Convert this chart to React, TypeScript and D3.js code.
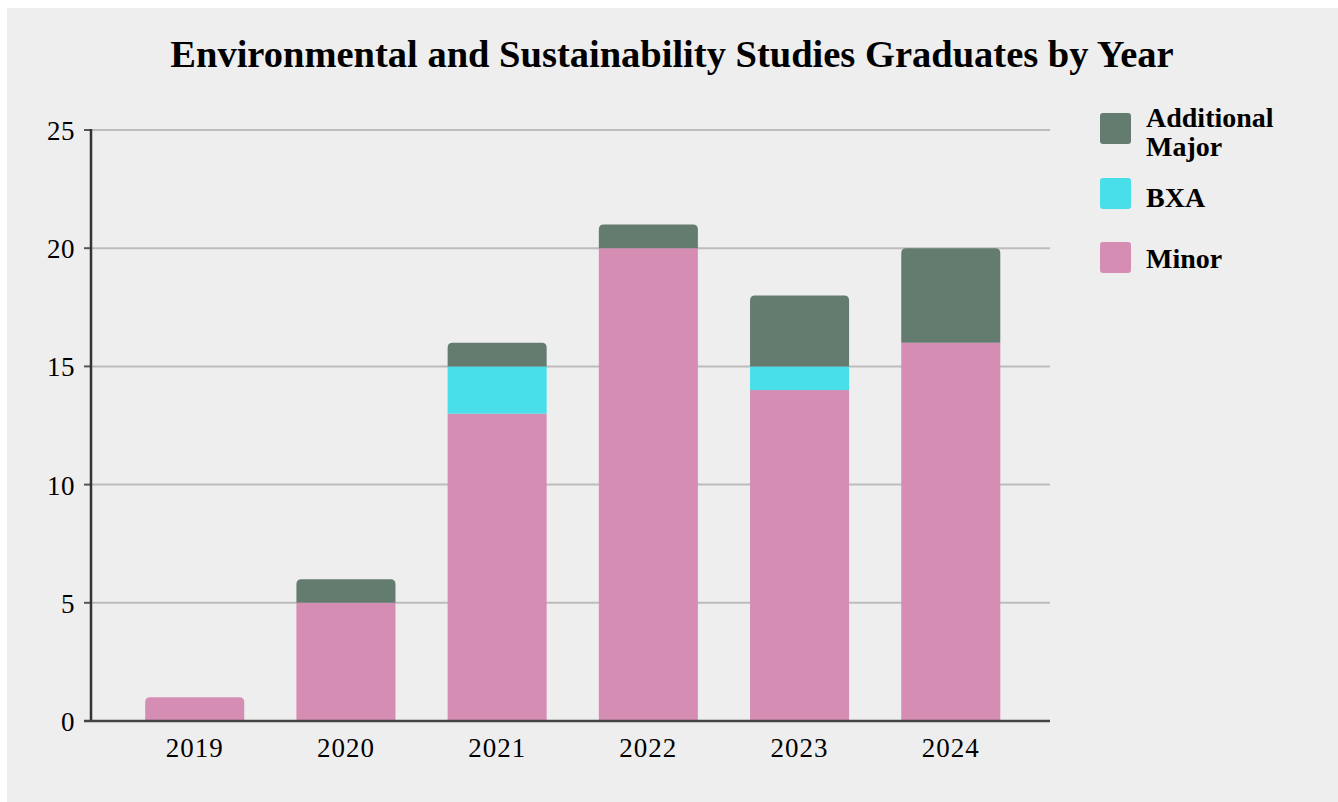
import React from "react";
import * as d3 from "d3";

const years = ["2019", "2020", "2021", "2022", "2023", "2024"];
const minor = [1, 5, 13, 20, 14, 16];
const bxa = [0, 0, 2, 0, 1, 0];
const additionalMajor = [0, 1, 1, 1, 3, 4];
const yTicks = [0, 5, 10, 15, 20, 25];
const seriesNames = ["Minor", "BXA", "Additional Major"];
const colors: Record<string, string> = {
  Minor: "#d68db3",
  BXA: "#48dfea",
  "Additional Major": "#647b70",
};

const W = 1338;
const H = 802;
const FONT = "'Liberation Serif', 'DejaVu Serif', serif";

export default function App() {
  const x = d3.scaleBand<string>().domain(years).range([119.5, 1026]).paddingInner(0.345).paddingOuter(0.17);
  const y = d3.scaleLinear().domain([0, 25]).range([721, 130]);

  const rows = years.map((yr, i) => ({
    year: yr,
    Minor: minor[i],
    BXA: bxa[i],
    "Additional Major": additionalMajor[i],
  }));
  const stack = d3.stack<any>().keys(seriesNames)(rows);

  const topKey = years.map((_, i) => {
    let k = "";
    seriesNames.forEach((s) => {
      const r = rows[i] as any;
      if (r[s] > 0) k = s;
    });
    return k;
  });

  const r = 5;
  const topRounded = (x0: number, y0: number, w: number, h: number) =>
    `M${x0},${y0 + h}V${y0 + r}Q${x0},${y0} ${x0 + r},${y0}H${x0 + w - r}Q${x0 + w},${y0} ${x0 + w},${y0 + r}V${y0 + h}Z`;

  return (
    <svg width={W} height={H} style={{ position: "fixed", left: 0, top: 0 }} xmlns="http://www.w3.org/2000/svg">
      <rect x={0} y={0} width={W} height={H} fill="#ffffff" />
      <rect x={7} y={8} width={W - 7} height={H - 8} fill="#eeeeee" />
      <text x={672} y={67} textAnchor="middle" fontFamily={FONT} fontWeight="bold" fontSize={38.5} fill="#000">
        Environmental and Sustainability Studies Graduates by Year
      </text>
      {yTicks.map((t) => (
        <g key={t}>
          {t > 0 && (
            <line x1={91} x2={1050} y1={y(t)} y2={y(t)} stroke="#bcbcbc" strokeWidth={2} />
          )}
          <line x1={84} x2={91} y1={y(t)} y2={y(t)} stroke="#555" strokeWidth={2} />
          <text x={75} y={y(t) + 10} textAnchor="end" fontFamily={FONT} fontSize={27} letterSpacing={0.5} fill="#000">
            {t}
          </text>
        </g>
      ))}
      {stack.map((layer) => (
        <g key={layer.key} fill={colors[layer.key]}>
          {layer.map((d, i) => {
            const h = y(d[0]) - y(d[1]);
            if (h <= 0) return null;
            const x0 = x(years[i])!;
            const w = x.bandwidth();
            if (topKey[i] === layer.key) {
              return <path key={i} d={topRounded(x0, y(d[1]), w, h)} />;
            }
            return <rect key={i} x={x0} y={y(d[1])} width={w} height={h} />;
          })}
        </g>
      ))}
      <line x1={91} x2={91} y1={129} y2={722} stroke="#333" strokeWidth={2.5} />
      <line x1={84} x2={1050} y1={721} y2={721} stroke="#444" strokeWidth={2.5} />
      {years.map((yr) => (
        <text
          key={yr}
          x={x(yr)! + x.bandwidth() / 2}
          y={757}
          textAnchor="middle"
          fontFamily={FONT}
          fontSize={27}
          letterSpacing={1}
          fill="#000"
        >
          {yr}
        </text>
      ))}
      {[
        { key: "Additional Major", lines: ["Additional", "Major"], y: 113, ty: 127 },
        { key: "BXA", lines: ["BXA"], y: 178, ty: 207 },
        { key: "Minor", lines: ["Minor"], y: 242, ty: 268 },
      ].map((l) => (
        <g key={l.key}>
          <rect x={1100} y={l.y} width={31} height={31} rx={3} fill={colors[l.key]} />
          {l.lines.map((s, j) => (
            <text
              key={j}
              x={1146}
              y={l.ty + j * 29}
              fontFamily={FONT}
              fontWeight="bold"
              fontSize={28}
              fill="#000"
            >
              {s}
            </text>
          ))}
        </g>
      ))}
    </svg>
  );
}
